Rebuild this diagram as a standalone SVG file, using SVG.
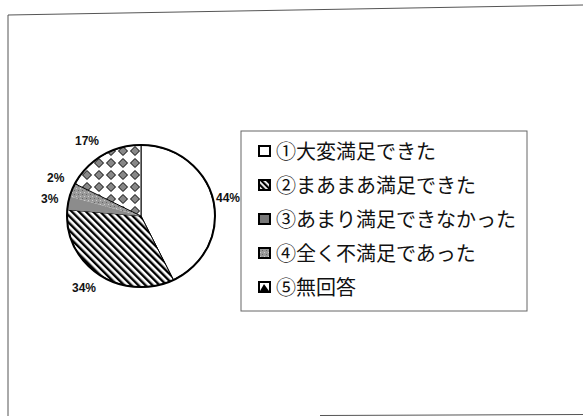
<svg xmlns="http://www.w3.org/2000/svg" width="583" height="416" viewBox="0 0 583 416">
<defs>
<pattern id="hatch" patternUnits="userSpaceOnUse" width="5" height="5" patternTransform="rotate(-45)">
<rect width="5" height="5" fill="#fff"/>
<rect x="0" y="0" width="2.4" height="5" fill="#000"/>
</pattern>
<pattern id="diam" patternUnits="userSpaceOnUse" x="141" y="145" width="12" height="12">
<rect width="12" height="12" fill="#fff"/>
<path d="M6,1.5 L10.5,6 L6,10.5 L1.5,6 Z" fill="#888" stroke="#000" stroke-width="1"/>
</pattern>
<pattern id="speck" patternUnits="userSpaceOnUse" width="4" height="4">
<rect width="4" height="4" fill="#999"/>
<rect x="0" y="0" width="1" height="1" fill="#ccc"/>
<rect x="2" y="2" width="1" height="1" fill="#666"/>
</pattern>
<pattern id="hatchS" patternUnits="userSpaceOnUse" width="4" height="4" patternTransform="rotate(-45)">
<rect width="4" height="4" fill="#fff"/>
<rect width="2.2" height="4" fill="#000"/>
</pattern>
</defs>
<style>
.frame{fill:none;stroke:#555;stroke-width:1}
.slice{stroke:#000;stroke-width:1}
.lbl{font-family:"Liberation Sans",Arial,sans-serif;font-weight:bold;font-size:12px;fill:#111}
.leg{font-family:"Noto Sans CJK JP","Noto Sans CJK SC",sans-serif;font-size:20px;fill:#111}
.mk{stroke:#000;stroke-width:2}
</style>
<rect width="583" height="416" fill="#fff"/>
<g id="frame">
<polyline class="frame" points="583,5 8,15 8,416"/>
<line class="frame" x1="320" y1="415.5" x2="583" y2="414.5"/>
</g>
<g id="pie">
<path id="s1" class="slice" fill="#fff" d="M141,216 L141,145 A74,71 0 0 1 173.4,279.8 Z"/>
<path id="s2" class="slice" fill="url(#hatch)" d="M141,216 L173.4,279.8 A74,71 0 0 1 67.3,209.8 Z"/>
<path id="s3" fill="#8c8c8c" d="M141,216 L67.3,209.8 A74,71 0 0 1 69.9,196.4 Z"/>
<path id="s4" fill="url(#speck)" d="M141,216 L69.9,196.4 A74,71 0 0 1 75.1,183.8 Z"/>
<path id="s5" class="slice" fill="url(#diam)" d="M141,216 L75.1,183.8 A74,71 0 0 1 141,145 Z"/>
<ellipse cx="141" cy="216" rx="74" ry="71" fill="none" stroke="#000" stroke-width="2"/>
</g>
<g id="labels">
<text class="lbl" x="75" y="145">17%</text>
<text class="lbl" x="47" y="182">2%</text>
<text class="lbl" x="41" y="203">3%</text>
<text class="lbl" x="216" y="202">44%</text>
<text class="lbl" x="72" y="292">34%</text>
</g>
<g id="legend">
<rect x="241" y="131" width="286" height="180" fill="#fff" stroke="#666" stroke-width="1"/>
<g id="leg1"><rect class="mk" x="259" y="146" width="11" height="10" fill="#fff"/><text class="leg" x="276" y="158.5">①大変満足できた</text></g>
<g id="leg2"><rect class="mk" x="259" y="180" width="11" height="10" fill="url(#hatchS)"/><text class="leg" x="276" y="192.5">②まあまあ満足できた</text></g>
<g id="leg3"><rect class="mk" x="259" y="214" width="11" height="10" fill="#777"/><text class="leg" x="276" y="226.5">③あまり満足できなかった</text></g>
<g id="leg4"><rect class="mk" x="259" y="248" width="11" height="10" fill="url(#speck)"/><text class="leg" x="276" y="260.5">④全く不満足であった</text></g>
<g id="leg5"><rect class="mk" x="259" y="282" width="11" height="10" fill="#fff"/><path d="M260,291 L264,284 L269,291 Z" fill="#000"/><text class="leg" x="276" y="294.5">⑤無回答</text></g>
</g>
</svg>
